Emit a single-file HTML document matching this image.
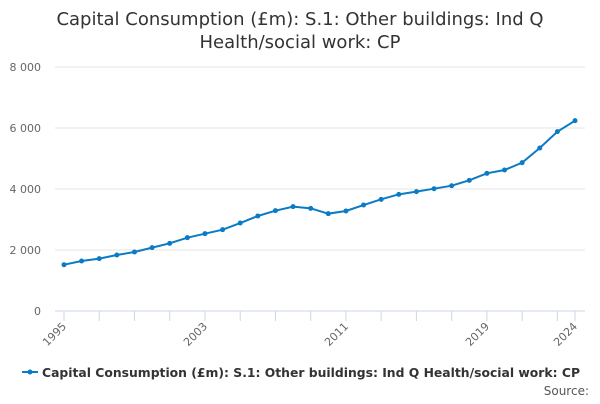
<!DOCTYPE html>
<html><head><meta charset="utf-8"><style>
body{margin:0;background:#fff;font-family:"DejaVu Sans","Liberation Sans",sans-serif}
</style></head><body>
<svg id="c" width="600" height="400" xmlns="http://www.w3.org/2000/svg" font-family="DejaVu Sans, Liberation Sans, sans-serif">
<text x="300" y="25" text-anchor="middle" font-size="18" fill="#333">Capital Consumption (£m): S.1: Other buildings: Ind Q</text>
<text x="300" y="48" text-anchor="middle" font-size="18" fill="#333">Health/social work: CP</text>
<g id="grid"></g><g id="xax"></g><g id="plot"></g>
<g>
<line x1="22" y1="372" x2="38" y2="372" stroke="#0a7bc4" stroke-width="2"/>
<circle cx="30" cy="372" r="2.5" fill="#0a7bc4"/>
<text x="42" y="377" font-size="12.7" font-weight="bold" fill="#333" textLength="538" lengthAdjust="spacingAndGlyphs">Capital Consumption (£m): S.1: Other buildings: Ind Q Health/social work: CP</text>
</g>
<text x="589" y="395" text-anchor="end" font-size="12" fill="#555">Source:</text>
</svg>
<script>
const years=[1995,1996,1997,1998,1999,2000,2001,2002,2003,2004,2005,2006,2007,2008,2009,2010,2011,2012,2013,2014,2015,2016,2017,2018,2019,2020,2021,2022,2023,2024];
const values=[1518,1639,1716,1836,1934,2077,2219,2404,2535,2666,2885,3115,3290,3421,3366,3191,3279,3475,3661,3825,3913,4010,4108,4284,4514,4623,4863,5344,5880,6240];
const yTicks=[0,2000,4000,6000,8000];
const yTickLabels=["0","2 000","4 000","6 000","8 000"];
const xLabelYears=[1995,2003,2011,2019,2024];
const NS="http://www.w3.org/2000/svg";
const xs=y=>64+(y-1995)*(575-64)/29;
const ys=v=>311-v*(311-67)/8000;
function mk(t,a,p){const e=document.createElementNS(NS,t);for(const k in a)e.setAttribute(k,a[k]);p.appendChild(e);return e;}
const grid=document.getElementById('grid'),xax=document.getElementById('xax'),plot=document.getElementById('plot');
yTicks.forEach((v,i)=>{
  const l=mk('line',{x1:55,x2:585,y1:ys(v),y2:ys(v),stroke:v===0?'#ccd6eb':'#e6e6e6','stroke-width':1},grid);
  
  
  const t=mk('text',{x:41,y:ys(v)+4,'text-anchor':'end','font-size':11,fill:'#666'},grid);
  t.textContent=yTickLabels[i];
  
  
});
const tickYears=years.filter(y=>(y-1995)%2===0||y===2024);
tickYears.forEach(y=>{
  const l=mk('line',{x1:xs(y),x2:xs(y),y1:311,y2:321,stroke:'#ccd6eb'},xax);
  
  
});
xLabelYears.forEach(y=>{
  const t=mk('text',{x:xs(y)+3,y:327,'text-anchor':'end','font-size':11,fill:'#666',transform:`rotate(-45 ${xs(y)+3} 327)`},xax);
  t.textContent=y;
  
  
});
const pl=mk('polyline',{points:years.map((y,i)=>xs(y)+','+ys(values[i])).join(' '),fill:'none',stroke:'#0a7bc4','stroke-width':2},plot);


years.forEach((y,i)=>{
  const c=mk('circle',{cx:xs(y),cy:ys(values[i]),r:2.5,fill:'#0a7bc4'},plot);
  
  
});
</script>
</body></html>
